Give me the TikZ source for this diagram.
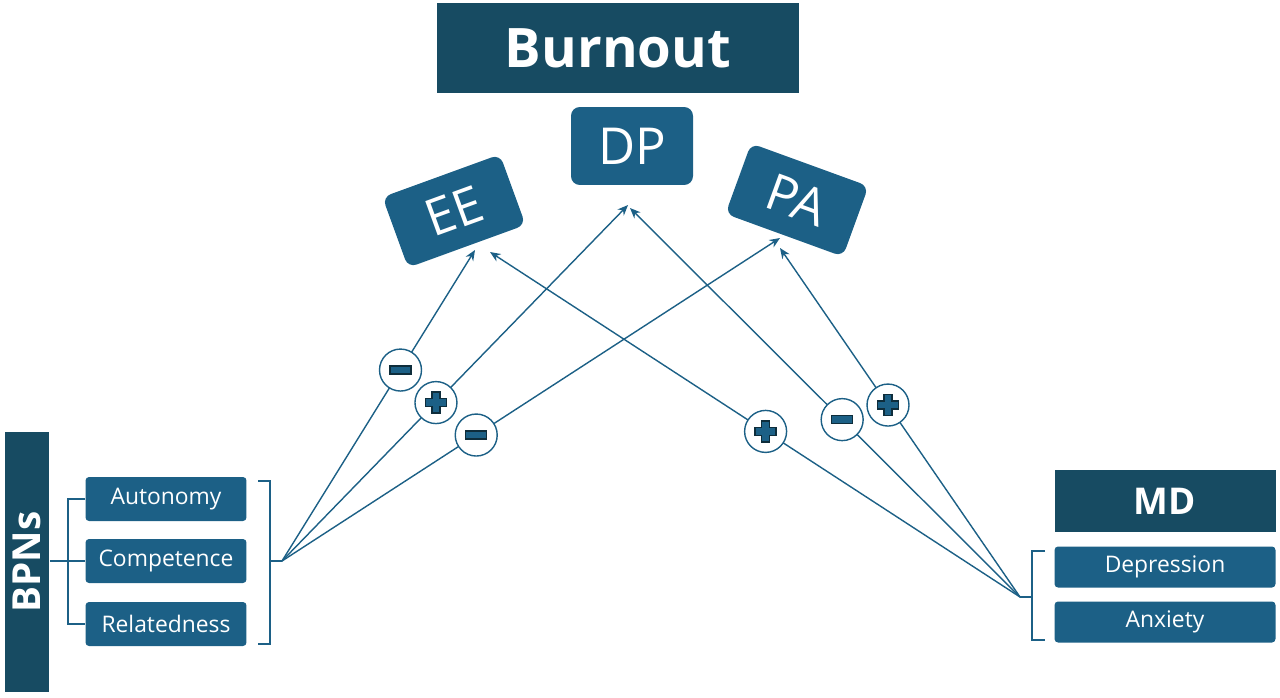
\documentclass[tikz,border=0pt]{standalone}
\usepackage{fontspec}
\setmainfont{Open Sans}
\usetikzlibrary{arrows.meta}
\definecolor{darkblue}{HTML}{174B62}
\definecolor{midblue}{HTML}{1C6086}
\tikzset {>=Stealth}
\tikzset{
  head/.style={fill=darkblue,text=white,font=\bfseries,inner sep=0pt},
  dim/.style={fill=midblue,text=white,rounded corners=5pt,inner sep=0pt},
  item/.style={fill=midblue,text=white,rounded corners=2pt,inner sep=0pt,
    minimum width=3.22cm,minimum height=0.88cm,font=\fontsize{13}{13}\selectfont},
  link/.style={midblue,thick,-{Stealth[length=6pt,width=5pt]}},
  brk/.style={midblue,thick},
  sgn/.style={circle,draw=midblue,thick,fill=white,minimum size=0.84cm,inner sep=0pt},
  minus/.style={sgn,path picture={
    \draw[darkblue!60!black,fill=midblue] ([xshift=-6pt,yshift=-2.2pt]path picture bounding box.center) rectangle ++(12pt,4.4pt);}},
  plus/.style={sgn,path picture={
    \draw[darkblue!60!black,fill=midblue] ([xshift=-6pt,yshift=-2.2pt]path picture bounding box.center)
      -- ++(3.8pt,0) -- ++(0,-3.8pt) -- ++(4.4pt,0) -- ++(0,3.8pt) -- ++(3.8pt,0) -- ++(0,4.4pt)
      -- ++(-3.8pt,0) -- ++(0,3.8pt) -- ++(-4.4pt,0) -- ++(0,-3.8pt) -- ++(-3.8pt,0) -- cycle;}}
}

\begin{document}
\begin{tikzpicture}[x=0.02cm,y=-0.02cm]
\useasboundingbox (0,0) rectangle (1280,697);
% burnout and its dimensions
\node[head,minimum width=7.26cm,minimum height=1.82cm,font=\bfseries\fontsize{31}{31}\selectfont] (burnout) at (618,48) {Burnout};
\node[dim,minimum width=2.44cm,minimum height=1.56cm,font=\fontsize{29}{29}\selectfont] (dp) at (632,146) {DP};
\node[dim,minimum width=2.5cm,minimum height=1.5cm,rotate=20,font=\fontsize{29}{29}\selectfont] (ee) at (454,211) {EE};
\node[dim,minimum width=2.5cm,minimum height=1.5cm,rotate=-20,font=\fontsize{29}{29}\selectfont] (pa) at (797,200) {PA};

% basic psychological needs
\node[head,minimum width=0.9cm,minimum height=5.2cm] (bpn) at (27,562) {};
\node[rotate=90,text=white,font=\bfseries\fontsize{22}{22}\selectfont] (bpntxt) at (bpn) {BPNs};
\node[item] (aut) at (166,499) {Autonomy};
\node[item] (com) at (166,561) {Competence};
\node[item] (rel) at (166,624) {Relatedness};
\draw[brk] (bpn.east |- com) -- (68,561);
\draw[brk] (aut.west) -- (68,499) -- (68,624) -- (rel.west);
\draw[brk] (68,561) -- (com.west);
\draw[brk] (258,481) -- (270,481) -- (270,644) -- (258,644);
\coordinate (L) at (282,561);
\draw[brk] (270,561) -- (L);

% mental distress
\node[head,minimum width=4.42cm,minimum height=1.24cm,font=\bfseries\fontsize{21}{21}\selectfont] (md) at (1165,501) {MD};
\node[item,minimum width=4.42cm,minimum height=0.82cm] (dep) at (1165,567) {Depression};
\node[item,minimum width=4.42cm,minimum height=0.82cm] (anx) at (1165,622) {Anxiety};
\draw[brk] (1045,551) -- (1032,551) -- (1032,640) -- (1045,640);
\coordinate (R) at (1020,597);
\draw[brk] (1032,597) -- (R);

% paths
\coordinate (eeL) at (475,250);
\coordinate (eeR) at (490,252);
\coordinate (dpL) at (628,205);
\coordinate (dpR) at (630,208);
\coordinate (paL) at (780,238);
\coordinate (paR) at (780,248);
\draw[link] (L) -- (eeL);
\draw[link] (L) -- (dpL);
\draw[link] (L) -- (paL);
\draw[link] (R) -- (eeR);
\draw[link] (R) -- (dpR);
\draw[link] (R) -- (paR);
\path (L) -- node[minus,pos=.614] (s1) {} (eeL);
\path (L) -- node[plus,pos=.445] (s2) {} (dpL);
\path (L) -- node[minus,pos=.39] (s3) {} (paL);
\path (R) -- node[plus,pos=.48] (s4) {} (eeR);
\path (R) -- node[minus,pos=.456] (s5) {} (dpR);
\path (R) -- node[plus,pos=.55] (s6) {} (paR);
\end{tikzpicture}
\end{document}
